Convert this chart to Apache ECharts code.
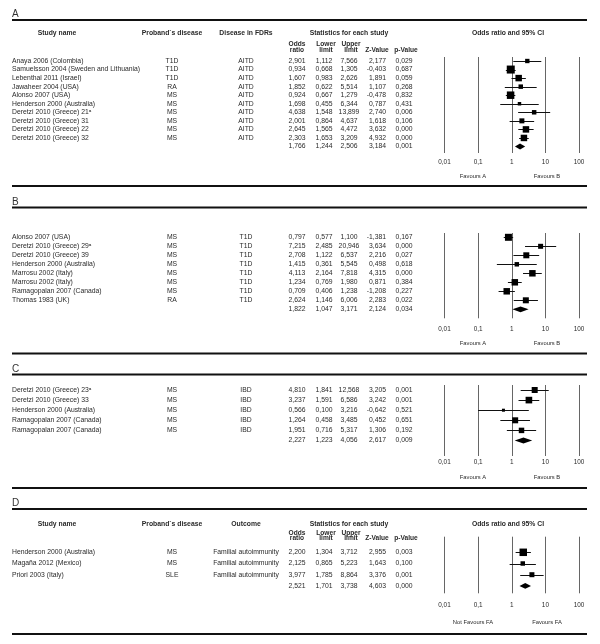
<!DOCTYPE html>
<html><head><meta charset="utf-8">
<script src="https://cdn.jsdelivr.net/npm/echarts/dist/echarts.min.js"></script>
<style>html,body{margin:0;padding:0;background:#fff}#c{width:600px;height:644px}</style>
</head><body><div id="c"></div>
<script>
// ---------- Panel A ----------
const studiesA = ['Anaya 2006 (Colombia)','Samuelsson 2004 (Sweden and Lithuania)','Lebenthal 2011 (Israel)','Jawaheer 2004 (USA)','Alonso 2007 (USA)','Henderson 2000 (Australia)','Deretzi 2010 (Greece) 21ᵃ','Deretzi 2010 (Greece) 31','Deretzi 2010 (Greece) 22','Deretzi 2010 (Greece) 32'];
const probandA = ['T1D','T1D','T1D','RA','MS','MS','MS','MS','MS','MS'];
const outcomeA = ['AITD','AITD','AITD','AITD','AITD','AITD','AITD','AITD','AITD','AITD'];
const oddsA  = [2.901, 0.934, 1.607, 1.852, 0.924, 1.698, 4.638, 2.001, 2.645, 2.303];
const lowerA = [1.112, 0.668, 0.983, 0.622, 0.667, 0.455, 1.548, 0.864, 1.565, 1.653];
const upperA = [7.566, 1.305, 2.626, 5.514, 1.279, 6.344, 13.899, 4.637, 4.472, 3.209];
const zA     = [2.177, -0.403, 1.891, 1.107, -0.478, 0.787, 2.740, 1.618, 3.632, 4.932];
const pA     = [0.029, 0.687, 0.059, 0.268, 0.832, 0.431, 0.006, 0.106, 0.000, 0.000];
const weightA = [19, 64, 42, 20, 56, 12, 20, 25, 42, 42];
const summaryA = [1.766, 1.244, 2.506, 3.184, 0.001];

// ---------- Panel B ----------
const studiesB = ['Alonso 2007 (USA)','Deretzi 2010 (Greece) 29ᵃ','Deretzi 2010 (Greece) 39','Henderson 2000 (Australia)','Marrosu 2002 (Italy)','Marrosu 2002 (Italy)','Ramagopalan 2007 (Canada)','Thomas 1983 (UK)'];
const probandB = ['MS','MS','MS','MS','MS','MS','MS','RA'];
const outcomeB = ['T1D','T1D','T1D','T1D','T1D','T1D','T1D','T1D'];
const oddsB  = [0.797, 7.215, 2.708, 1.415, 4.113, 1.234, 0.709, 2.624];
const lowerB = [0.577, 2.485, 1.122, 0.361, 2.164, 0.769, 0.406, 1.146];
const upperB = [1.100, 20.946, 6.537, 5.545, 7.818, 1.980, 1.238, 6.006];
const zB     = [-1.381, 3.634, 2.216, 0.498, 4.315, 0.871, -1.208, 2.283];
const pB     = [0.167, 0.000, 0.027, 0.618, 0.000, 0.384, 0.227, 0.022];
const weightB = [49, 25, 36, 20, 42, 42, 42, 36];
const summaryB = [1.822, 1.047, 3.171, 2.124, 0.034];

// ---------- Panel C ----------
const studiesC = ['Deretzi 2010 (Greece) 23ᵃ','Deretzi 2010 (Greece) 33','Henderson 2000 (Australia)','Ramagopalan 2007 (Canada)','Ramagopalan 2007 (Canada)'];
const probandC = ['MS','MS','MS','MS','MS'];
const outcomeC = ['IBD','IBD','IBD','IBD','IBD'];
const oddsC  = [4.810, 3.237, 0.566, 1.264, 1.951];
const lowerC = [1.841, 1.591, 0.100, 0.458, 0.716];
const upperC = [12.568, 6.586, 3.216, 3.485, 5.317];
const zC     = [3.205, 3.242, -0.642, 0.452, 1.306];
const pC     = [0.001, 0.001, 0.521, 0.651, 0.192];
const weightC = [36, 44, 9, 36, 30];
const summaryC = [2.227, 1.223, 4.056, 2.617, 0.009];

// ---------- Panel D ----------
const studiesD = ['Henderson 2000 (Australia)','Magaña 2012 (Mexico)','Priori 2003 (Italy)'];
const probandD = ['MS','MS','SLE'];
const outcomeD = ['Familial autoimmunity','Familial autoimmunity','Familial autoimmunity'];
const oddsD  = [2.200, 2.125, 3.977];
const lowerD = [1.304, 0.865, 1.785];
const upperD = [3.712, 5.223, 8.864];
const zD     = [2.955, 1.643, 3.376];
const pD     = [0.003, 0.100, 0.001];
const weightD = [56, 20, 25];
const summaryD = [2.521, 1.701, 3.738, 4.603, 0.000];

// ---------- Labels ----------
const panelLetters = ['A','B','C','D'];
const tickLabels = ['0,01','0,1','1','10','100'];
const favoursABC = ['Favours A','Favours B'];
const favoursD = ['Not Favours FA','Favours FA'];
const headTitles = ['Study name','Proband`s disease','Statistics for each study','Odds ratio and 95% CI'];
const outcomeTitleA = 'Disease in FDRs';
const outcomeTitleD = 'Outcome';
const colTitles = ['Odds\nratio','Lower\nlimit','Upper\nlimit','Z-Value','p-Value'];

// ---------- Layout ----------
const FONT = "'Liberation Sans', Arial, Helvetica, sans-serif";
const fnt = (sz, bold) => (bold ? 'bold ' : '') + sz + 'px ' + FONT;
const TXT = '#2a2a2a';
const layout = [
  {top:20, head:33, colHead:[44,50.5], row0:61, step:8.55, plotTop:57, plotBottom:153, tickY:162.3, favY:176, bottom:186},
  {top:207.5, row0:237.3, step:9.0, plotTop:233, plotBottom:318.3, tickY:329, favY:343.3, bottom:353.5},
  {top:374.5, row0:390, step:10.1, plotTop:385, plotBottom:456, tickY:462.3, favY:477.7, bottom:488},
  {top:509, head:524.5, colHead:[532.8,538.5], row0:552.3, step:11.2, plotTop:536.7, plotBottom:593.3, tickY:605.7, favY:622.3, bottom:634}
];
const COL = {name:12, proband:172, outcome:246, odds:297, lower:324, upper:349, z:386, p:404};
const COLHEAD_X = [297, 326, 351, 377, 406];
const FAV_X = [473, 547];

const panels = [
  {studies:studiesA, proband:probandA, outcome:outcomeA, odds:oddsA, lower:lowerA, upper:upperA, z:zA, p:pA, weight:weightA, summary:summaryA, favours:favoursABC, outTitle:outcomeTitleA, header:true},
  {studies:studiesB, proband:probandB, outcome:outcomeB, odds:oddsB, lower:lowerB, upper:upperB, z:zB, p:pB, weight:weightB, summary:summaryB, favours:favoursABC, header:false},
  {studies:studiesC, proband:probandC, outcome:outcomeC, odds:oddsC, lower:lowerC, upper:upperC, z:zC, p:pC, weight:weightC, summary:summaryC, favours:favoursABC, header:false},
  {studies:studiesD, proband:probandD, outcome:outcomeD, odds:oddsD, lower:lowerD, upper:upperD, z:zD, p:pD, weight:weightD, summary:summaryD, favours:favoursD, outTitle:outcomeTitleD, header:true}
];

const fmt = v => v.toFixed(3).replace('.', ',');

function renderStudy(params, api) {
  const row = api.value(3);
  const pc = api.coord([api.value(0), row]);
  const xl = api.coord([api.value(1), row])[0];
  const xh = api.coord([api.value(2), row])[0];
  const s = api.value(4);
  const yc = Math.round(pc[1]) + 0.5;
  return {type:'group', children:[
    {type:'line', shape:{x1:xl, y1:yc, x2:xh, y2:yc}, style:{stroke:'#111', lineWidth:1}},
    {type:'rect', shape:{x:pc[0]-s/2, y:pc[1]-s/2, width:s, height:s}, style:{fill:'#000'}}
  ]};
}
function renderDiamond(params, api) {
  const row = api.value(3);
  const pc = api.coord([api.value(0), row]);
  const xl = api.coord([api.value(1), row])[0];
  const xh = api.coord([api.value(2), row])[0];
  const h = 2.9, y = pc[1];
  return {type:'polygon', shape:{points:[[xl,y],[pc[0],y-h],[xh,y],[pc[0],y+h]]}, style:{fill:'#000'}};
}
function makeRowRenderer(p) {
  return function(params, api) {
    const i = params.dataIndex;
    const y = api.coord([1, i])[1];
    const isSum = i === p.studies.length;
    const vals = isSum ? p.summary : [p.odds[i], p.lower[i], p.upper[i], p.z[i], p.p[i]];
    const t = (text, x, align) => ({type:'text', x:x, y:y, style:{text:text, font:fnt(6.8), fill:TXT, align:align, verticalAlign:'middle'}});
    const ch = [];
    if (!isSum) {
      ch.push(t(p.studies[i], COL.name, 'left'));
      ch.push(t(p.proband[i], COL.proband, 'center'));
      ch.push(t(p.outcome[i], COL.outcome, 'center'));
    }
    ch.push(t(fmt(vals[0]), COL.odds, 'center'));
    ch.push(t(fmt(vals[1]), COL.lower, 'center'));
    ch.push(t(fmt(vals[2]), COL.upper, 'center'));
    ch.push(t(fmt(vals[3]), COL.z, 'right'));
    ch.push(t(fmt(vals[4]), COL.p, 'center'));
    return {type:'group', children:ch};
  };
}

const grids = [], xAxes = [], yAxes = [], series = [], graphics = [];
panels.forEach((p, k) => {
  const L = layout[k];
  grids.push({left:444.5, right:21, top:L.plotTop, height:L.plotBottom - L.plotTop, outerBoundsMode:'none'});
  xAxes.push({gridIndex:k, type:'log', logBase:10, min:0.01, max:100,
    axisLine:{show:false}, axisTick:{show:false},
    splitLine:{show:true, lineStyle:{color:'#666', width:1}},
    axisLabel:{margin:L.tickY - L.plotBottom - 3.2, fontSize:6.4, color:TXT, fontFamily:FONT,
      showMinLabel:true, showMaxLabel:true,
      formatter: v => tickLabels[Math.round(Math.log10(v)) + 2]}});
  yAxes.push({gridIndex:k, type:'value', inverse:true, show:false,
    min:(L.plotTop - L.row0) / L.step, max:(L.plotBottom - L.row0) / L.step});
  const n = p.studies.length;
  series.push({type:'custom', xAxisIndex:k, yAxisIndex:k, clip:false, encode:{x:0, y:3},
    data: p.odds.map((o, i) => [o, p.lower[i], p.upper[i], i, Math.sqrt(p.weight[i])]),
    renderItem: renderStudy});
  series.push({type:'custom', xAxisIndex:k, yAxisIndex:k, clip:false, encode:{x:0, y:3},
    data: [[p.summary[0], p.summary[1], p.summary[2], n]], renderItem: renderDiamond});
  const rows = [];
  for (let i = 0; i <= n; i++) rows.push([1, i]);
  series.push({type:'custom', xAxisIndex:k, yAxisIndex:k, clip:false, encode:{x:0, y:1},
    data: rows, renderItem: makeRowRenderer(p)});

  // panel letter and rules
  graphics.push({type:'text', x:12, y:L.top - 0.5, style:{text:panelLetters[k], font:fnt(10), fill:'#333', align:'left', verticalAlign:'bottom'}});
  graphics.push({type:'rect', shape:{x:12, y:L.top - 1, width:575, height:2}, style:{fill:'#111'}});
  graphics.push({type:'rect', shape:{x:12, y:L.bottom - 1, width:575, height:2}, style:{fill:'#111'}});
  // favours labels
  p.favours.forEach((f, j) => graphics.push({type:'text', x:FAV_X[j], y:L.favY, style:{text:f, font:fnt(5.8), fill:TXT, align:'center', verticalAlign:'middle'}}));
  // headers
  if (p.header) {
    const hx = [57, 172, 349, 508];
    headTitles.forEach((h, j) => graphics.push({type:'text', x:hx[j], y:L.head, style:{text:h, font:fnt(6.8, true), fill:TXT, align:'center', verticalAlign:'middle'}}));
    graphics.push({type:'text', x:246, y:L.head, style:{text:p.outTitle, font:fnt(6.8, true), fill:TXT, align:'center', verticalAlign:'middle'}});
    colTitles.forEach((c, j) => {
      const lines = c.split('\n');
      if (lines.length === 2) {
        graphics.push({type:'text', x:COLHEAD_X[j], y:L.colHead[0], style:{text:lines[0], font:fnt(6.6, true), fill:TXT, align:'center', verticalAlign:'middle'}});
        graphics.push({type:'text', x:COLHEAD_X[j], y:L.colHead[1], style:{text:lines[1], font:fnt(6.6, true), fill:TXT, align:'center', verticalAlign:'middle'}});
      } else {
        graphics.push({type:'text', x:COLHEAD_X[j], y:L.colHead[1], style:{text:lines[0], font:fnt(6.6, true), fill:TXT, align:'center', verticalAlign:'middle'}});
      }
    });
  }
});

const chart = echarts.init(document.getElementById('c'), null, {renderer:'canvas'});
chart.setOption({
  animation:false,
  backgroundColor:'#fff',
  grid:grids, xAxis:xAxes, yAxis:yAxes, series:series,
  graphic:{elements:graphics}
});
</script></body></html>
